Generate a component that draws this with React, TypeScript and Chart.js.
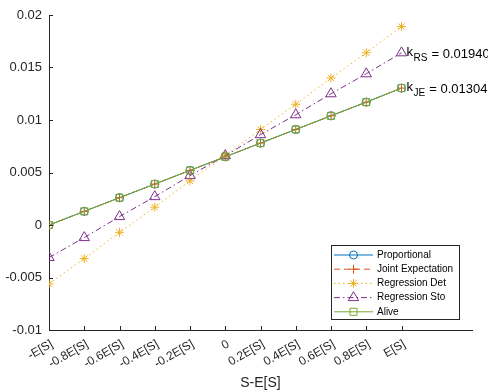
import React, { useEffect, useRef } from "react";
import { Chart, registerables } from "chart.js";
Chart.register(...registerables);

const xValues = [-1, -0.8, -0.6, -0.4, -0.2, 0, 0.2, 0.4, 0.6, 0.8, 1];
const xTickLabels = ["-E[S]", "-0.8E[S]", "-0.6E[S]", "-0.4E[S]", "-0.2E[S]", "0", "0.2E[S]", "0.4E[S]", "0.6E[S]", "0.8E[S]", "E[S]"];
const yTickValues = [-0.01, -0.005, 0, 0.005, 0.01, 0.015, 0.02];
const yTickLabels = ["-0.01", "-0.005", "0", "0.005", "0.01", "0.015", "0.02"];

const proportional = [0, 0.0013, 0.0026, 0.0039, 0.0052, 0.0065, 0.0078, 0.0091, 0.0104, 0.0117, 0.01304];
const jointExpectation = [0, 0.0013, 0.0026, 0.0039, 0.0052, 0.0065, 0.0078, 0.0091, 0.0104, 0.0117, 0.01304];
const regressionDet = [-0.0056, -0.0032, -0.0007, 0.0017, 0.0042, 0.0066, 0.0091, 0.0115, 0.014, 0.0164, 0.0189];
const regressionSto = [-0.0031, -0.0012, 0.0008, 0.0027, 0.0047, 0.0066, 0.0086, 0.0105, 0.0125, 0.0144, 0.0164];
const alive = [0, 0.0013, 0.0026, 0.0039, 0.0052, 0.0065, 0.0078, 0.0091, 0.0104, 0.0117, 0.01304];

const seriesNames = ["Proportional", "Joint Expectation", "Regression Det", "Regression Sto", "Alive"];
const seriesColors = ["#0072BD", "#D95319", "#EDB120", "#7E2F8E", "#77AC30"];
const seriesDash = [[], [6, 4], [1.5, 3], [6, 3, 1.5, 3], []];
const seriesMarkers = ["circle", "cross", "star", "triangle", "rect"];
const markerRadius = [4, 4.5, 4.5, 6, 5];

const annotations = [
  { main: "k", sub: "RS", rest: " = 0.01940", series: 3 },
  { main: "k", sub: "JE", rest: " = 0.01304", series: 1 },
];

const FONT = "'Liberation Sans', Arial, Helvetica, sans-serif";
const AXIS = "#262626";

function drawMarker(ctx: CanvasRenderingContext2D, style: string, x: number, y: number, r: number, color: string) {
  ctx.save();
  ctx.strokeStyle = color;
  ctx.lineWidth = 1;
  ctx.setLineDash([]);
  ctx.beginPath();
  if (style === "circle") {
    ctx.arc(x, y, r, 0, Math.PI * 2);
  } else if (style === "cross") {
    ctx.moveTo(x - r, y); ctx.lineTo(x + r, y);
    ctx.moveTo(x, y - r); ctx.lineTo(x, y + r);
  } else if (style === "star") {
    for (let i = 0; i < 4; i++) {
      const a = (i * Math.PI) / 4;
      ctx.moveTo(x - r * Math.cos(a), y - r * Math.sin(a));
      ctx.lineTo(x + r * Math.cos(a), y + r * Math.sin(a));
    }
  } else if (style === "triangle") {
    ctx.moveTo(x, y - r);
    ctx.lineTo(x + r * 0.866, y + r * 0.5);
    ctx.lineTo(x - r * 0.866, y + r * 0.5);
    ctx.closePath();
  } else if (style === "rect") {
    const s = r * Math.SQRT1_2;
    ctx.rect(x - s, y - s, 2 * s, 2 * s);
  }
  ctx.stroke();
  ctx.restore();
}

const overlayPlugin = {
  id: "overlay",
  afterDraw(chart: any) {
    const ctx: CanvasRenderingContext2D = chart.ctx;
    const xs = chart.scales.x;
    const ys = chart.scales.y;
    const area = chart.chartArea;
    ctx.save();
    // inward ticks
    ctx.strokeStyle = AXIS;
    ctx.lineWidth = 1;
    ctx.beginPath();
    xValues.forEach((v) => {
      const px = Math.round(xs.getPixelForValue(v)) + 0.5;
      ctx.moveTo(px, area.bottom);
      ctx.lineTo(px, area.bottom - 4);
    });
    yTickValues.forEach((v) => {
      const py = Math.round(ys.getPixelForValue(v)) + 0.5;
      ctx.moveTo(area.left, py);
      ctx.lineTo(area.left + 4, py);
    });
    ctx.stroke();

    // annotations
    annotations.forEach((a) => {
      const data = chart.data.datasets.find((d: any) => d.label === seriesNames[a.series]).data;
      const last = data[data.length - 1];
      const px = xs.getPixelForValue(last.x) + 5;
      const py = ys.getPixelForValue(last.y);
      ctx.fillStyle = "#000";
      ctx.textBaseline = "alphabetic";
      ctx.textAlign = "left";
      ctx.font = `13px ${FONT}`;
      ctx.fillText(a.main, px, py + 3);
      const w1 = ctx.measureText(a.main).width;
      ctx.font = `10px ${FONT}`;
      ctx.fillText(a.sub, px + w1 + 0.5, py + 8);
      const w2 = ctx.measureText(a.sub).width;
      ctx.font = `13px ${FONT}`;
      ctx.fillText(a.rest, px + w1 + w2 + 1, py + 5);
    });

    // legend
    const lx = 331, ly = 245, lw = 128, lh = 74;
    ctx.fillStyle = "#fff";
    ctx.fillRect(lx, ly, lw, lh);
    ctx.strokeStyle = AXIS;
    ctx.lineWidth = 1;
    ctx.strokeRect(lx + 0.5, ly + 0.5, lw, lh);
    seriesNames.forEach((name, i) => {
      const cy = ly + 10 + i * 14.2;
      ctx.save();
      ctx.strokeStyle = seriesColors[i];
      ctx.lineWidth = 1;
      ctx.setLineDash(seriesDash[i]);
      ctx.beginPath();
      ctx.moveTo(lx + 3, cy);
      ctx.lineTo(lx + 42, cy);
      ctx.stroke();
      ctx.restore();
      drawMarker(ctx, seriesMarkers[i], lx + 22.5, cy, markerRadius[i], seriesColors[i]);
      ctx.fillStyle = "#000";
      ctx.font = `10px ${FONT}`;
      ctx.textAlign = "left";
      ctx.textBaseline = "middle";
      ctx.fillText(name, lx + 46, cy);
    });
    ctx.restore();
  },
};

export default function App() {
  const ref = useRef<HTMLCanvasElement>(null);
  useEffect(() => {
    document.body.style.margin = "0";
    const seriesData = [proportional, jointExpectation, regressionDet, regressionSto, alive];
    const datasets = seriesNames.map((name, i) => ({
      label: name,
      data: xValues.map((x, j) => ({ x, y: seriesData[i][j] })),
      borderColor: seriesColors[i],
      borderWidth: 1,
      borderDash: seriesDash[i],
      pointStyle: seriesMarkers[i],
      pointRadius: markerRadius[i],
      pointBorderColor: seriesColors[i],
      pointBackgroundColor: "rgba(0,0,0,0)",
      pointBorderWidth: 1,
      fill: false,
      tension: 0,
      order: 5 - i,
    }));
    const chart = new Chart(ref.current!, {
      type: "line",
      data: { datasets },
      options: {
        responsive: false,
        animation: false,
        devicePixelRatio: 1,
        layout: { padding: { top: 15, right: 16, left: 0, bottom: 0 } },
        plugins: { legend: { display: false }, tooltip: { enabled: false } },
        scales: {
          x: {
            type: "linear",
            min: -1,
            max: 1.4,
            afterBuildTicks: (s: any) => {
              s.ticks = xValues.map((v) => ({ value: v }));
            },
            afterFit: (s: any) => {
              s.height = 62;
            },
            grid: { display: false, drawTicks: false },
            border: { display: true, color: AXIS, width: 1 },
            ticks: {
              autoSkip: false,
              minRotation: 30,
              maxRotation: 30,
              padding: 7,
              labelOffset: 3,
              color: AXIS,
              font: { family: FONT, size: 12 },
              callback: (_v: any, i: number) => xTickLabels[i],
            },
            title: {
              display: true,
              text: "S-E[S]",
              color: AXIS,
              font: { family: FONT, size: 14 },
              padding: { top: 0, bottom: 0 },
            },
          },
          y: {
            type: "linear",
            min: -0.01,
            max: 0.02,
            afterBuildTicks: (s: any) => {
              s.ticks = yTickValues.map((v) => ({ value: v }));
            },
            afterFit: (s: any) => {
              s.width = 49;
            },
            grid: { display: false, drawTicks: false },
            border: { display: true, color: AXIS, width: 1 },
            ticks: {
              autoSkip: false,
              padding: 7,
              color: AXIS,
              font: { family: FONT, size: 13 },
              callback: (_v: any, i: number) => yTickLabels[i],
            },
          },
        },
      },
      plugins: [overlayPlugin],
    });
    return () => chart.destroy();
  }, []);
  return <canvas ref={ref} width={488} height={392} style={{ display: "block" }} />;
}
